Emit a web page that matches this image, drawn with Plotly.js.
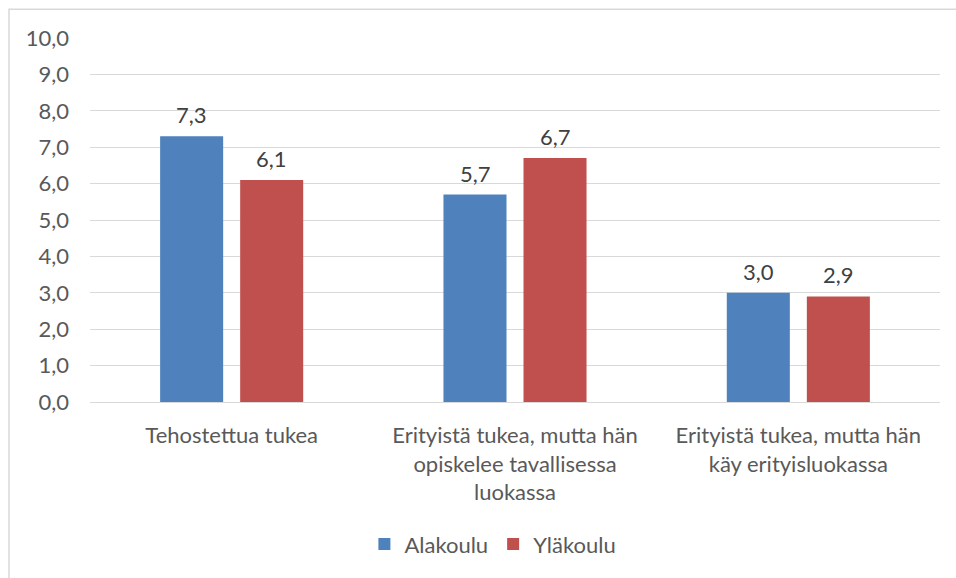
<!DOCTYPE html>
<html>
<head>
<meta charset="utf-8">
<script src="https://cdn.plot.ly/plotly-3.0.1.min.js"></script>
<style>html,body{margin:0;padding:0;background:#fff;}#chart{width:956px;height:578px;}</style>
</head>
<body>
<div id="chart"></div>
<script>
const categories = [
  "Tehostettua tukea",
  "Erityistä tukea, mutta hän<br>opiskelee tavallisessa<br>luokassa",
  "Erityistä tukea, mutta hän<br>käy erityisluokassa"
];
const seriesNames = ["Alakoulu", "Yläkoulu"];
const alakoulu = [7.3, 5.7, 3.0];
const ylakoulu = [6.1, 6.7, 2.9];
const yTicks = [0,1,2,3,4,5,6,7,8,9,10];

const font = "Lato, 'Open Sans', sans-serif";
const FS = 22;
const colors = ['#4F81BD', '#C0504D'];
const seriesVals = [alakoulu, ylakoulu];

const data = seriesVals.map((vals, i) => ({
  type: 'bar', name: seriesNames[i], x: categories, y: vals,
  marker: {color: colors[i]},
  hoverinfo: 'skip'
}));

const annotations = [];
seriesVals.forEach((vals, i) => {
  vals.forEach((v, j) => {
    annotations.push({
      x: categories[j], y: v, xref: 'x', yref: 'y',
      text: v.toFixed(1).replace('.', ','),
      showarrow: false, yanchor: 'bottom', xanchor: 'center',
      xshift: i === 0 ? -40 : 40, yshift: 6,
      font: {family: font, size: FS, color: '#404040'}
    });
  });
});

const layout = {
  width: 956, height: 578,
  margin: {l: 90, r: 16, t: 38, b: 174},
  paper_bgcolor: '#fff', plot_bgcolor: '#fff',
  separators: ', ',
  barmode: 'group', bargap: 0.435, bargroupgap: 0.2125,
  font: {family: font, size: FS, color: '#595959'},
  xaxis: {
    showgrid: false, showline: false, zeroline: false, ticks: '',
    ticklabelstandoff: 18, tickfont: {family: font, size: FS, color: '#595959'}
  },
  yaxis: {
    range: [0, 10], tickvals: yTicks, tickformat: '.1f',
    showgrid: true, gridcolor: '#D9D9D9', gridwidth: 1,
    zeroline: true, zerolinecolor: '#D9D9D9', zerolinewidth: 1,
    showline: false, ticks: '', ticklabelstandoff: 20,
    tickfont: {family: font, size: FS, color: '#595959'}
  },
  showlegend: true,
  legend: {orientation: 'h', x: 0.474, xanchor: 'center', y: -0.391, yanchor: 'middle',
    font: {family: font, size: FS, color: '#595959'}, itemwidth: 30, traceorder: 'normal'},
  annotations: annotations,
  shapes: [{type: 'rect', xref: 'paper', yref: 'paper',
    x0: -0.0953, x1: 1.03, y0: -0.5, y1: 1.079,
    line: {color: '#D9D9D9', width: 1.5}, fillcolor: 'rgba(0,0,0,0)', layer: 'below'}]
};
Plotly.newPlot('chart', data, layout, {displayModeBar: false, staticPlot: true});
</script>
</body>
</html>
